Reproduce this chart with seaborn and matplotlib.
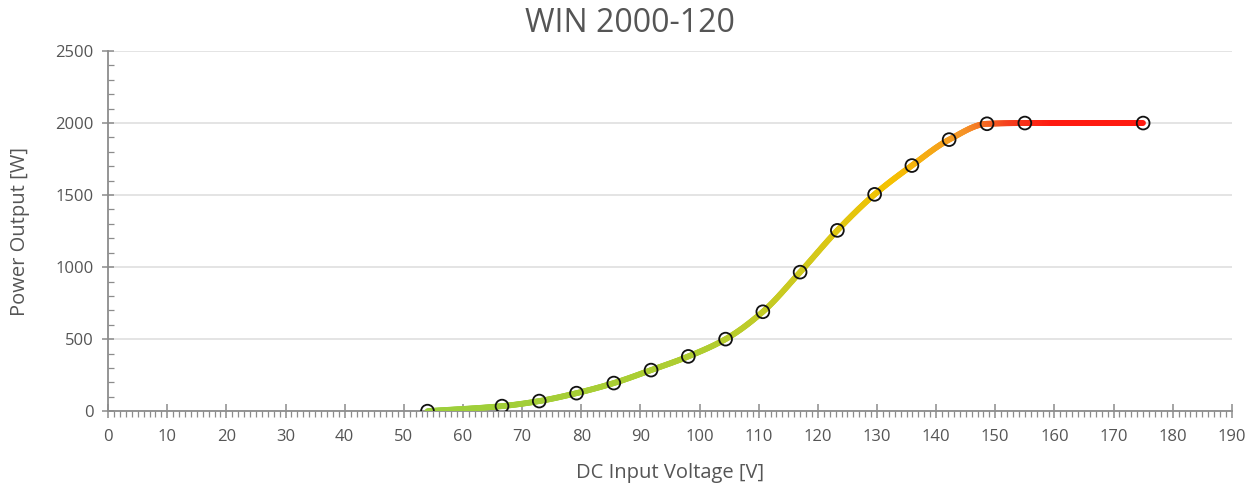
import numpy as np
import matplotlib
matplotlib.use('Agg')
import matplotlib.pyplot as plt
import seaborn as sns
from matplotlib.collections import LineCollection
from matplotlib.colors import LinearSegmentedColormap
from matplotlib.ticker import MultipleLocator

# measured points of the power curve
voltage = [54.0, 66.6, 72.9, 79.2, 85.5, 91.8, 98.1, 104.4, 110.7, 117.0,
           123.3, 129.6, 135.9, 142.2, 148.6, 155.0, 175.0]
power = [0, 35, 70, 125, 195, 285, 380, 500, 690, 965,
         1255, 1505, 1705, 1885, 1995, 2000, 2000]

title = 'WIN 2000-120'
xlabel = 'DC Input Voltage [V]'
ylabel = 'Power Output [W]'

sns.set_style('white')
plt.rcParams['font.family'] = ['Open Sans', 'DejaVu Sans']
txt = '#555555'
axis_col = '#8c8c8c'

fig = plt.figure(figsize=(12.57, 4.86), dpi=100)
ax = fig.add_axes([0.086, 0.154, 0.894, 0.741])


def monotone(x, y, n=600):
    # Fritsch-Carlson monotone cubic, only for drawing a smooth line
    x = np.asarray(x, float)
    y = np.asarray(y, float)
    h = np.diff(x)
    d = np.diff(y) / h
    m = np.zeros_like(y)
    m[0], m[-1] = d[0], d[-1]
    for i in range(1, len(x) - 1):
        if d[i - 1] * d[i] <= 0:
            m[i] = 0
        else:
            w1 = 2 * h[i] + h[i - 1]
            w2 = h[i] + 2 * h[i - 1]
            m[i] = (w1 + w2) / (w1 / d[i - 1] + w2 / d[i])
    xs = np.linspace(x[0], x[-1], n)
    idx = np.clip(np.searchsorted(x, xs) - 1, 0, len(x) - 2)
    t = (xs - x[idx]) / h[idx]
    h00 = 2 * t**3 - 3 * t**2 + 1
    h10 = t**3 - 2 * t**2 + t
    h01 = -2 * t**3 + 3 * t**2
    h11 = t**3 - t**2
    ys = h00 * y[idx] + h10 * h[idx] * m[idx] + h01 * y[idx + 1] + h11 * h[idx] * m[idx + 1]
    return xs, ys


xs, ys = monotone(voltage, power)
pts = np.column_stack([xs, ys]).reshape(-1, 1, 2)
segs = np.concatenate([pts[:-1], pts[1:]], axis=1)

cmap = LinearSegmentedColormap.from_list('curve', [
    (0.0, '#9ccf3c'), (0.45, '#b0cd30'), (0.60, '#cfc91e'),
    (0.74, '#f5c200'), (0.86, '#f59428'), (0.93, '#f5401e'), (1.0, '#ff1a10')])
norm = plt.Normalize(54, 160)
lc = LineCollection(segs, cmap=cmap, norm=norm, linewidth=4.2, capstyle='round', zorder=3)
lc.set_array(np.clip((xs[:-1] + xs[1:]) / 2, 54, 160))
ax.add_collection(lc)

sns.scatterplot(x=voltage, y=power, ax=ax, s=85, facecolor='none',
                edgecolor='#111111', linewidth=1.3, zorder=4, legend=False)

ax.set_xlim(0, 190)
ax.set_ylim(0, 2500)
ax.xaxis.set_major_locator(MultipleLocator(10))
ax.xaxis.set_minor_locator(MultipleLocator(1))
ax.yaxis.set_major_locator(MultipleLocator(500))
ax.yaxis.set_minor_locator(MultipleLocator(100))

ax.grid(axis='y', which='major', color='#dcdcdc', linewidth=1.1, zorder=0)
ax.set_axisbelow(True)
for s in ['top', 'right']:
    ax.spines[s].set_visible(False)
for s in ['left', 'bottom']:
    ax.spines[s].set_color(axis_col)
    ax.spines[s].set_linewidth(1.3)

ax.tick_params(which='both', bottom=True, left=True)
ax.tick_params(axis='x', which='major', direction='inout', length=10, width=1.1,
               color=axis_col, labelcolor=txt, labelsize=12, pad=8)
ax.tick_params(axis='x', which='minor', direction='out', length=4, width=0.9, color=axis_col)
ax.tick_params(axis='y', which='major', direction='inout', length=9, width=1.1,
               color=axis_col, labelcolor=txt, labelsize=12, pad=6)
ax.tick_params(axis='y', which='minor', direction='in', length=4, width=0.9, color=axis_col)

fig.suptitle(title, x=0.501, y=0.985, fontsize=23, color=txt, va='top')
ax.set_xlabel(xlabel, fontsize=14.5, color=txt, labelpad=13)
ax.set_ylabel(ylabel, fontsize=14.5, color=txt, labelpad=18)

fig.savefig('out.png', dpi=100)
